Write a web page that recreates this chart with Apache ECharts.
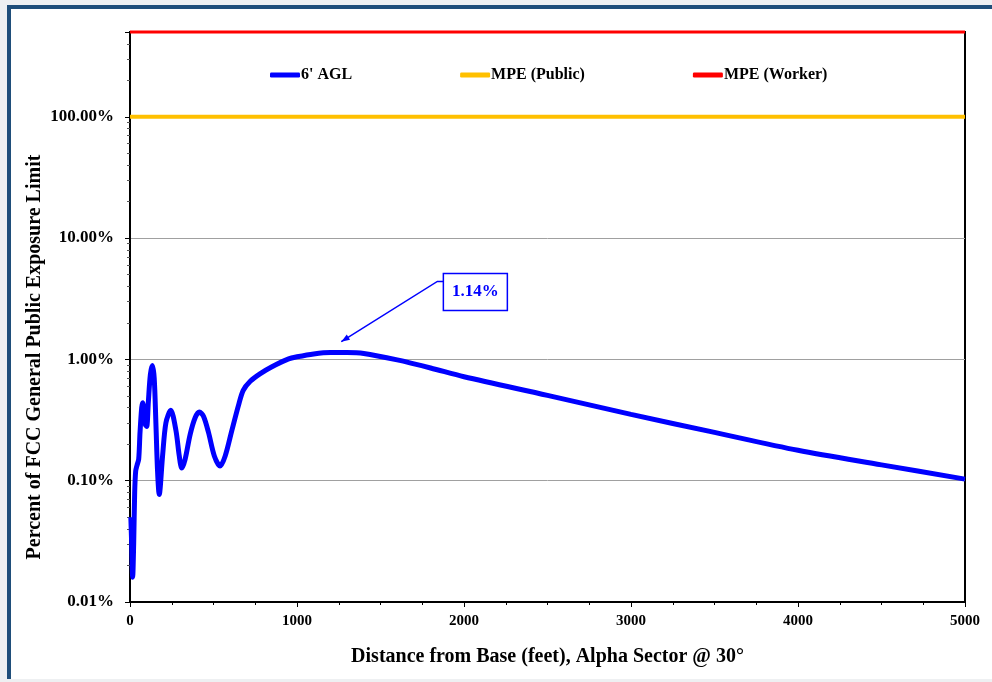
<!DOCTYPE html>
<html>
<head>
<meta charset="utf-8">
<script src="https://cdn.jsdelivr.net/npm/echarts@6/dist/echarts.min.js"></script>
<style>
  html, body { margin: 0; padding: 0; background: #eef0f2; }
  #frame {
    position: absolute; left: 7px; top: 5px; width: 981px; height: 670px;
    background: #fff; border-left: 4px solid #1f4e7a; border-top: 4px solid #1f4e7a;
  }
  #chart { position: absolute; left: 0; top: 0; width: 992px; height: 682px; }
</style>
</head>
<body>
<div id="frame"></div>
<div id="chart"></div>
<script>
// distance from base (feet)
var distance = [5, 10, 16, 22, 28, 34, 42, 52, 60, 70, 76, 84, 92, 100, 110, 122, 134, 145, 155, 165, 175,
  195, 215, 244, 275, 295, 310, 330, 360, 390, 415, 440, 470, 505, 539, 570, 610, 650, 678, 720, 778, 850, 950,
  1000, 1100, 1200, 1300, 1400, 1600, 1800, 2000, 2500, 3000, 3500, 4000, 4500, 5000];
// percent of FCC general public exposure limit, 6' AGL
var agl6 = [0.050, 0.030, 0.016, 0.030, 0.080, 0.120, 0.134, 0.150, 0.250, 0.400, 0.440, 0.380, 0.290, 0.280, 0.450, 0.750, 0.890, 0.700, 0.300, 0.120, 0.077,
  0.160, 0.300, 0.380, 0.260, 0.160, 0.127, 0.150, 0.240, 0.330, 0.368, 0.340, 0.250, 0.160, 0.132, 0.160, 0.260, 0.420, 0.556, 0.660, 0.760, 0.870, 1.010,
  1.050, 1.110, 1.140, 1.140, 1.120, 0.990, 0.850, 0.720, 0.505, 0.352, 0.250, 0.178, 0.135, 0.103];
var mpeX = [0, 5000];
var mpePublic = [100, 100];
var mpeWorker = [500, 500];
var peakLabel = '1.14%';
var peakAt = [1265, 1.40];      // arrow tip (feet, %)
var labelAt = [2068, 3.6];      // centre of the callout box (feet, %)
var legendNames = ["6' AGL", 'MPE (Public)', 'MPE (Worker)'];

var serif = '"Liberation Serif", "Times New Roman", serif';

function zip(xs, ys) {
    return xs.map(function (x, i) { return [x, ys[i]]; });
}

var chart = echarts.init(document.getElementById('chart'));
chart.setOption({
    animation: false,
    grid: {
        left: 130, right: 27, top: 32, bottom: 80,
        show: true, borderColor: '#000', borderWidth: 2
    },
    legend: {
        data: legendNames,
        left: 265, top: 62,
        icon: 'roundRect',
        itemWidth: 30, itemHeight: 5, itemGap: 108,
        textStyle: {fontFamily: serif, fontWeight: 'bold', fontSize: 16, color: '#000', padding: [0, 0, 0, -4]}
    },
    xAxis: {
        type: 'value',
        min: 0, max: 5000, interval: 1000,
        name: 'Distance from Base (feet), Alpha Sector @ 30°',
        nameLocation: 'middle', nameGap: 45,
        nameTextStyle: {fontFamily: serif, fontWeight: 'bold', fontSize: 20, color: '#000'},
        axisLine: {lineStyle: {color: '#000', width: 2}},
        axisTick: {show: true, length: 5, lineStyle: {color: '#000'}},
        minorTick: {show: true, splitNumber: 4, length: 3, lineStyle: {color: '#000'}},
        axisLabel: {fontFamily: serif, fontWeight: 'bold', fontSize: 15, color: '#000', margin: 12,
            formatter: function (v) { return String(v); }},
        splitLine: {show: false}
    },
    yAxis: {
        type: 'log', logBase: 10,
        min: 0.01, max: 500,
        axisLine: {show: true, lineStyle: {color: '#000', width: 2}},
        axisTick: {show: true, length: 5, lineStyle: {color: '#000'}},
        minorTick: {show: true, splitNumber: 9, length: 3, lineStyle: {color: '#555'}},
        axisLabel: {
            fontFamily: serif, fontWeight: 'bold', fontSize: 17, color: '#000', margin: 16,
            showMaxLabel: false,
            formatter: function (v) { return v > 200 ? '' : v.toFixed(2) + '%'; }
        },
        splitLine: {show: true, lineStyle: {color: '#a0a0a0', width: 1}}
    },
    series: [
        {
            name: legendNames[0], type: 'line', data: zip(distance, agl6),
            symbol: 'none', smooth: 0.3, z: 5,
            lineStyle: {color: '#0000ff', width: 5}, itemStyle: {color: '#0000ff'}
        },
        {
            name: legendNames[1], type: 'line', data: zip(mpeX, mpePublic),
            symbol: 'none', z: 4,
            lineStyle: {color: '#ffc000', width: 4}, itemStyle: {color: '#ffc000'}
        },
        {
            name: legendNames[2], type: 'line', data: zip(mpeX, mpeWorker),
            symbol: 'none', z: 4, clip: false,
            lineStyle: {color: '#ff0000', width: 3}, itemStyle: {color: '#ff0000'}
        }
    ]
});

// callout with arrow, placed through the chart's own scales
var tip = chart.convertToPixel({gridIndex: 0}, peakAt);
var box = chart.convertToPixel({gridIndex: 0}, labelAt);
var boxW = 64, boxH = 37;
var bx = box[0] - boxW / 2, by = box[1] - boxH / 2;
var startY = by + 8;
var elbow = [bx - 6, startY];
var dx = tip[0] - elbow[0], dy = tip[1] - elbow[1];
var ang = Math.atan2(dy, dx);
var head = 9;
chart.setOption({
    graphic: {
        elements: [
            {type: 'polyline', z: 100, shape: {points: [[bx, startY], elbow, tip]},
                style: {stroke: '#0000ff', lineWidth: 1.5, fill: null}},
            {type: 'polygon', z: 100, shape: {points: [
                tip,
                [tip[0] - head * Math.cos(ang - 0.35), tip[1] - head * Math.sin(ang - 0.35)],
                [tip[0] - head * Math.cos(ang + 0.35), tip[1] - head * Math.sin(ang + 0.35)]
            ]}, style: {fill: '#0000ff'}},
            {type: 'rect', z: 100, shape: {x: bx, y: by, width: boxW, height: boxH},
                style: {fill: '#fff', stroke: '#0000ff', lineWidth: 1.5}},
            {type: 'text', z: 101, x: bx + boxW / 2, y: by + boxH / 2,
                style: {text: peakLabel, fill: '#0000ff', font: 'bold 17px ' + serif, align: 'center', verticalAlign: 'middle'}},
            {type: 'text', z: 101, x: 35, y: 357, rotation: Math.PI / 2,
                style: {text: 'Percent of FCC General Public Exposure Limit', fill: '#000',
                    font: 'bold 20px ' + serif, align: 'center', verticalAlign: 'middle'}}
        ]
    }
});
</script>
</body>
</html>
